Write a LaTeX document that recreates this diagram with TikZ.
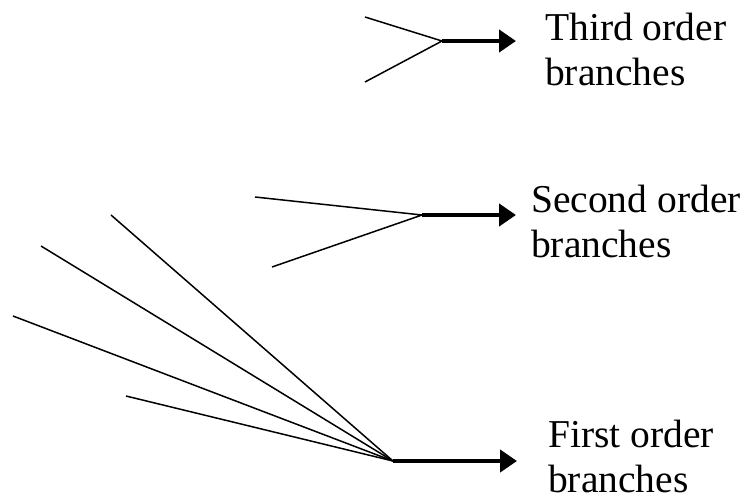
\documentclass[tikz,border=0pt]{standalone}
\usepackage{fontspec}
\setmainfont{Liberation Serif}
\usetikzlibrary{arrows.meta}

\tikzset{
  twig/.style={line width=1.5pt},
  stem/.style={line width=4.5pt, -{Triangle[length=17pt,width=22pt]}},
  label/.style={anchor=base west, inner sep=0pt, align=left,
    font=\fontsize{39.5}{44.5}\selectfont}
}

\begin{document}
\begin{tikzpicture}[x=1pt,y=-1pt]
            \useasboundingbox (0,0) rectangle (749,501);

            % Third order
            \coordinate (j3) at (442,41);
            \coordinate (a3) at (365,17);
            \coordinate (b3) at (365,82);
            \coordinate (e3) at (516,41);
            \draw[twig] (a3) -- (j3) -- (b3);
            \draw[stem] (j3) -- (e3);
            \node[label] (third) at (545,85) {Third order\\branches};

            % Second order
            \coordinate (j2) at (422,215);
            \coordinate (a2) at (255,197);
            \coordinate (b2) at (272,267);
            \coordinate (e2) at (516,215);
            \draw[twig] (a2) -- (j2) -- (b2);
            \draw[stem] (j2) -- (e2);
            \node[label] (second) at (531,257) {Second order\\branches};

            % First order
            \coordinate (j1) at (393,461);
            \coordinate (e1) at (517,461);
            \foreach \p [count=\i] in {(111,215),(41,246),(13,316),(126,396)}
              \draw[twig] \p coordinate (a1\i) -- (j1);
            \draw[stem] (j1) -- (e1);
            \node[label] (first) at (548,492) {First order\\branches};

        \end{tikzpicture}
\end{document}
